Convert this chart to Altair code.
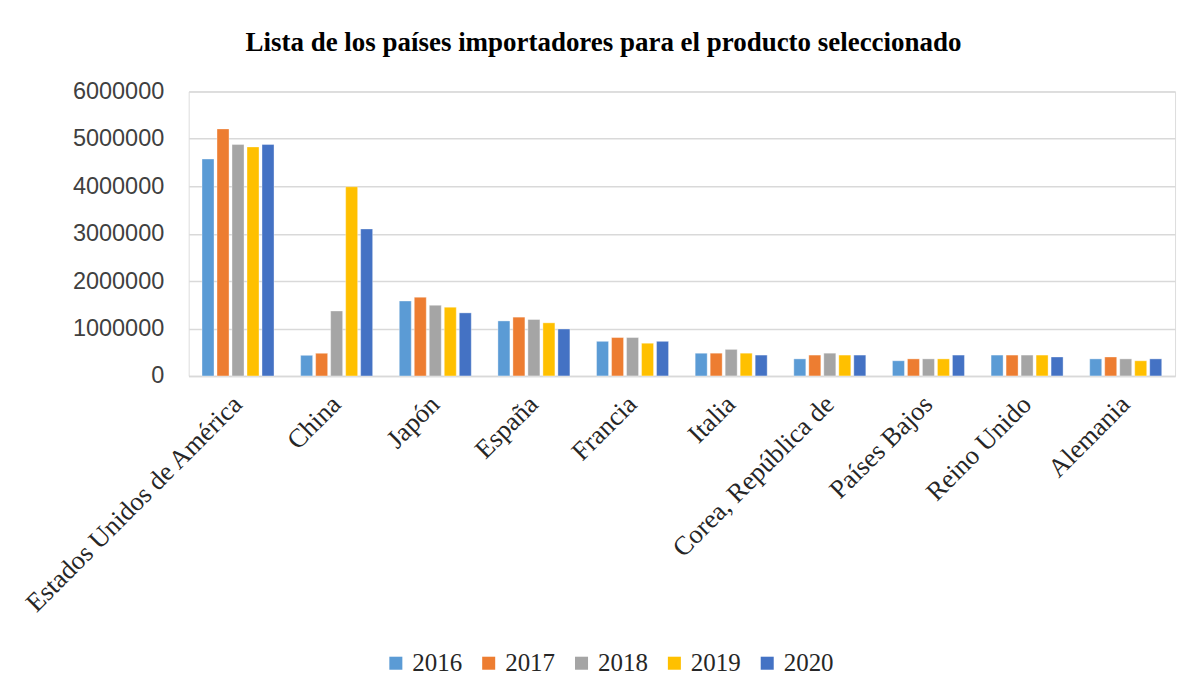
import altair as alt
import pandas as pd

countries = ["Estados Unidos de América", "China", "Japón", "España", "Francia",
             "Italia", "Corea, República de", "Países Bajos", "Reino Unido", "Alemania"]
years = ["2016", "2017", "2018", "2019", "2020"]
v2016 = [4575000, 435000, 1580000, 1160000, 730000, 480000, 360000, 320000, 440000, 360000]
v2017 = [5210000, 477000, 1660000, 1240000, 810000, 480000, 440000, 360000, 440000, 400000]
v2018 = [4880000, 1370000, 1490000, 1190000, 810000, 560000, 480000, 360000, 440000, 360000]
v2019 = [4830000, 3990000, 1450000, 1120000, 690000, 480000, 440000, 360000, 440000, 320000]
v2020 = [4880000, 3100000, 1330000, 990000, 730000, 440000, 440000, 440000, 400000, 360000]
colors = ["#5B9BD5", "#ED7D31", "#A5A5A5", "#FFC000", "#4472C4"]

series = [v2016, v2017, v2018, v2019, v2020]
rows = []
for y, vals in zip(years, series):
    for c, v in zip(countries, vals):
        rows.append({"País": c, "Año": y, "Valor": v})
df = pd.DataFrame(rows)

chart = alt.Chart(df).mark_bar(stroke="white", strokeWidth=0.6, strokeOpacity=0.6).encode(
    x=alt.X("País:N", sort=countries, title=None,
            scale=alt.Scale(paddingInner=0.27, paddingOuter=0.135),
            axis=alt.Axis(labelAngle=315, labelAlign="right", labelBaseline="middle",
                          labelFont="Liberation Serif", labelFontSize=26.5, labelColor="#262626",
                          labelPadding=24, labelLimit=500, ticks=False,
                          domainColor="#D9D9D9", domainWidth=1.5)),
    xOffset=alt.XOffset("Año:N", sort=years, scale=alt.Scale(paddingInner=0.2)),
    y=alt.Y("Valor:Q", title=None,
            scale=alt.Scale(domain=[0, 6000000]),
            axis=alt.Axis(values=[0, 1000000, 2000000, 3000000, 4000000, 5000000, 6000000],
                          format="d", labelFont="Liberation Sans", labelFontSize=23.5,
                          labelColor="#404040", labelPadding=25, ticks=False, domain=False,
                          gridColor="#D9D9D9", gridWidth=1.5)),
    color=alt.Color("Año:N", sort=years,
                    scale=alt.Scale(domain=years, range=colors),
                    legend=alt.Legend(title=None, orient="none", direction="horizontal",
                                      legendX=195, legendY=560,
                                      symbolType="square", symbolSize=170,
                                      symbolStrokeWidth=0,
                                      labelFont="Liberation Serif", labelFontSize=25,
                                      labelColor="#262626", columnPadding=14,
                                      labelOffset=4)),
).properties(
    width=988,
    height=285,
    padding={"left": 12, "top": 20, "right": 20, "bottom": 10},
    title=alt.Title("Lista de los países importadores para el producto seleccionado",
                    font="Liberation Serif", fontSize=27, fontWeight="bold",
                    color="#000000", anchor="middle", frame="bounds", offset=23, dx=6),
).configure_view(stroke=None).configure(background="white")

chart.save("out.html", embed_options={"renderer": "svg", "actions": False})
